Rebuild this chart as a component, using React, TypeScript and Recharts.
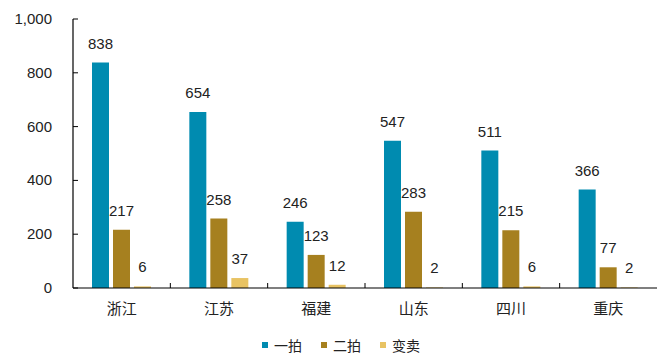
import React from "react";
import { BarChart, Bar, XAxis, YAxis, Legend, LabelList } from "recharts";

const categories = ["浙江", "江苏", "福建", "山东", "四川", "重庆"];
const firstAuction = [838, 654, 246, 547, 511, 366];
const secondAuction = [217, 258, 123, 283, 215, 77];
const saleOff = [6, 37, 12, 2, 6, 2];
const yTicks = [0, 200, 400, 600, 800, 1000];
const seriesNames = ["一拍", "二拍", "变卖"];
const seriesColors = ["#008BB0", "#A6801F", "#E8C363"];

const data = categories.map((c, i) => ({
  name: c,
  s0: firstAuction[i],
  s1: secondAuction[i],
  s2: saleOff[i],
}));

const W = 658;
const H = 356;
const MARGIN = { top: 19, right: 1, bottom: 18, left: 0 };
const Y_W = 73;
const FONT = "'Liberation Sans', Arial, 'Noto Sans CJK SC', sans-serif";
const BAND = (W - MARGIN.left - MARGIN.right - Y_W) / categories.length;

const YTick = (props: any) => {
  const { x, y, payload } = props;
  return (
    <g>
      <line x1={x} x2={x + 5} y1={y} y2={y} stroke="#000" strokeWidth={1} />
      <text x={x - 21} y={y} dy={5} textAnchor="end" fontSize={15} fill="#222" fontFamily={FONT}>
        {Number(payload.value).toLocaleString("en-US")}
      </text>
    </g>
  );
};

const XTick = (props: any) => {
  const { x, y, payload, index } = props;
  return (
    <g>
      {index < categories.length - 1 && (
        <line x1={x + BAND / 2} x2={x + BAND / 2} y1={y} y2={y - 5} stroke="#000" strokeWidth={1} />
      )}
      <text x={x} y={y + 26} textAnchor="middle" fontSize={15} fill="#222" fontFamily={FONT}>
        {payload.value}
      </text>
    </g>
  );
};

const LegendContent = () => (
  <div style={{ display: "flex", justifyContent: "center", paddingLeft: 24, fontFamily: FONT, fontSize: 14, color: "#222" }}>
    {seriesNames.map((n, i) => (
      <div key={n} style={{ display: "flex", alignItems: "center", marginRight: i < 2 ? 19 : 0 }}>
        <span style={{ display: "inline-block", width: 6, height: 6, background: seriesColors[i], marginRight: 6 }} />
        <span>{n}</span>
      </div>
    ))}
  </div>
);

export default function App() {
  return (
    <div style={{ position: "absolute", left: 0, top: 0, width: W, height: H, background: "#fff" }}>
      <BarChart width={W} height={H} data={data} margin={MARGIN} barSize={17} barGap={4}>
        <XAxis
          dataKey="name"
          axisLine={{ stroke: "#000", strokeWidth: 1.2 }}
          tickLine={false}
          tickSize={0}
          tickMargin={0}
          height={30}
          tick={<XTick />}
          interval={0}
        />
        <YAxis
          domain={[0, 1000]}
          ticks={yTicks}
          width={Y_W}
          axisLine={{ stroke: "#000", strokeWidth: 1.2 }}
          tickLine={false}
          tickSize={0}
          tickMargin={0}
          tick={<YTick />}
          interval={0}
        />
        <Legend content={<LegendContent />} wrapperStyle={{ top: 335, left: 0, width: W }} />
        {["s0", "s1", "s2"].map((k, i) => (
          <Bar key={k} dataKey={k} name={seriesNames[i]} fill={seriesColors[i]} isAnimationActive={false}>
            <LabelList dataKey={k} position="top" offset={14} fontSize={15} fill="#222" fontFamily={FONT} />
          </Bar>
        ))}
      </BarChart>
    </div>
  );
}
